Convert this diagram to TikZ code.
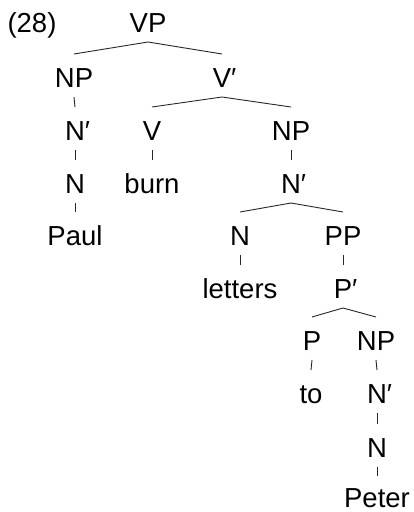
\documentclass[tikz,border=0pt]{standalone}
\usepackage{fontspec}
\setmainfont{Liberation Sans}
\begin{document}
\begin{tikzpicture}[x=1pt,y=1pt,
  lab/.style={anchor=base, inner sep=0pt, font=\fontsize{27.5}{33}\selectfont},
  br/.style={line width=0.9pt, draw=black!85}]
\useasboundingbox (0,0) rectangle (413,-512);
\node[lab] (num) at (32,-32) {(28)};
\node[lab] (vp) at (148,-32) {VP};
\node[lab] (np1) at (74,-87) {NP};
\node[lab] (vbar) at (222,-87) {V\rlap{′}};
\node[lab] (nbar1) at (75,-140) {N\rlap{′}};
\node[lab] (v) at (152,-140) {V};
\node[lab] (np2) at (291,-140) {NP};
\node[lab] (n1) at (75,-193) {N};
\node[lab] (burn) at (152,-193) {burn};
\node[lab] (nbar2) at (291,-193) {N\rlap{′}};
\node[lab] (paul) at (75,-245) {Paul};
\node[lab] (n2) at (240,-245) {N};
\node[lab] (pp) at (343,-245) {PP};
\node[lab] (letters) at (240,-298) {letters};
\node[lab] (pbar) at (343,-298) {P\rlap{′}};
\node[lab] (p) at (312,-350) {P};
\node[lab] (np3) at (376,-350) {NP};
\node[lab] (to) at (311,-403) {to};
\node[lab] (nbar3) at (377,-403) {N\rlap{′}};
\node[lab] (n3) at (377,-457) {N};
\node[lab] (peter) at (377,-507) {Peter};
\foreach \a/\b in {vp/np1, vp/vbar, np1/nbar1, nbar1/n1, n1/paul,
  vbar/v, vbar/np2, v/burn, np2/nbar2, nbar2/n2, nbar2/pp, n2/letters,
  pp/pbar, pbar/p, pbar/np3, p/to, np3/nbar3, nbar3/n3}
  \draw[br] ([yshift=-10pt]\a.base) -- ([yshift=33pt]\b.base);
\draw[br] ([yshift=-10pt]n3.base) -- ([yshift=31pt]peter.base);
\end{tikzpicture}
\end{document}
